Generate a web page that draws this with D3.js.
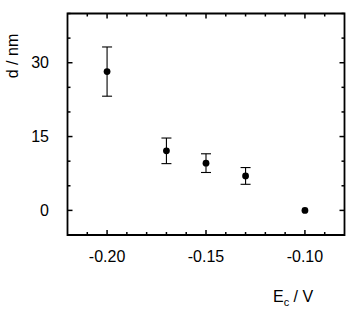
<!DOCTYPE html>
<html>
<head>
<meta charset="utf-8">
<script src="https://cdn.jsdelivr.net/npm/d3@7"></script>
<style>
  body { margin: 0; background: #fff; }
  svg text { font-family: Arial, "Liberation Sans", sans-serif; fill: #000; }
</style>
</head>
<body>
<div id="chart"></div>
<script>
(function() {
    'use strict';

    // Data
    var potentials = [-0.20, -0.17, -0.15, -0.13, -0.10];
    var thickness = [28.2, 12.1, 9.6, 7.0, 0];
    var thicknessErr = [5.0, 2.6, 1.9, 1.7, 0];
    var xTickValues = [-0.20, -0.15, -0.10];
    var xMinorValues = [-0.21, -0.19, -0.18, -0.17, -0.16, -0.14, -0.13, -0.12, -0.11, -0.09];
    var yTickValues = [0, 15, 30];
    var yMinorValues = [-5, 5, 10, 20, 25, 35, 40];

    var width = 350, height = 312;
    var margin = { left: 67.5, right: 5.5, top: 13.5, bottom: 77 };

    var svg = d3.select("#chart").append("svg")
        .attr("width", width)
        .attr("height", height);

    var xScale = d3.scaleLinear()
        .domain([-0.22, -0.08])
        .range([margin.left, width - margin.right]);

    var yScale = d3.scaleLinear()
        .domain([-5, 40])
        .range([height - margin.bottom, margin.top]);

    var x0 = xScale.range()[0], x1 = xScale.range()[1];
    var yB = yScale.range()[0], yT = yScale.range()[1];

    // Frame
    svg.append("path")
        .attr("d", "M" + x0 + "," + yT + "H" + x1 + "V" + yB + "H" + x0 + "Z")
        .attr("fill", "none")
        .attr("stroke", "#000")
        .attr("stroke-width", 1.8);

    // Inward ticks on all four sides
    var tickLayer = svg.append("g")
        .attr("stroke", "#000")
        .attr("stroke-width", 1.5);

    var hTicks = function(values, len) {
        tickLayer.selectAll(null)
            .data(values).enter().append("line")
            .attr("x1", function(d) { return xScale(d); })
            .attr("x2", function(d) { return xScale(d); })
            .attr("y1", yB)
            .attr("y2", yB - len);
        tickLayer.selectAll(null)
            .data(values).enter().append("line")
            .attr("x1", function(d) { return xScale(d); })
            .attr("x2", function(d) { return xScale(d); })
            .attr("y1", yT)
            .attr("y2", yT + len);
    };
    var vTicks = function(values, len) {
        tickLayer.selectAll(null)
            .data(values).enter().append("line")
            .attr("y1", function(d) { return yScale(d); })
            .attr("y2", function(d) { return yScale(d); })
            .attr("x1", x0)
            .attr("x2", x0 + len);
        tickLayer.selectAll(null)
            .data(values).enter().append("line")
            .attr("y1", function(d) { return yScale(d); })
            .attr("y2", function(d) { return yScale(d); })
            .attr("x1", x1)
            .attr("x2", x1 - len);
    };
    hTicks(xTickValues, 5);
    hTicks(xMinorValues, 3);
    vTicks(yTickValues, 5);
    vTicks(yMinorValues, 3);

    // Tick labels
    svg.append("g").selectAll("text")
        .data(xTickValues).enter().append("text")
        .attr("x", function(d) { return xScale(d); })
        .attr("y", 262)
        .attr("text-anchor", "middle")
        .style("font-size", "16px")
        .text(function(d) { return d.toFixed(2); });

    svg.append("g").selectAll("text")
        .data(yTickValues).enter().append("text")
        .attr("x", 49)
        .attr("y", function(d) { return yScale(d) + 5.5; })
        .attr("text-anchor", "end")
        .style("font-size", "16px")
        .text(function(d) { return d; });

    // Axis titles
    svg.append("text")
        .attr("transform", "translate(18,56) rotate(-90)")
        .attr("text-anchor", "middle")
        .style("font-size", "16px")
        .text("d / nm");

    var xt = svg.append("text")
        .attr("x", 273)
        .attr("y", 302)
        .style("font-size", "16px");
    xt.append("tspan").text("E");
    xt.append("tspan").attr("dy", 4).style("font-size", "11px").text("c");
    xt.append("tspan").attr("dy", -4).text(" / V");

    // Error bars
    var bars = svg.append("g").attr("stroke", "#000").attr("stroke-width", 1.1);
    potentials.forEach(function(p, i) {
        if (!thicknessErr[i]) return;
        var x = xScale(p);
        var top = yScale(thickness[i] + thicknessErr[i]);
        var bot = yScale(thickness[i] - thicknessErr[i]);
        bars.append("line").attr("x1", x).attr("x2", x).attr("y1", top).attr("y2", bot);
        bars.append("line").attr("x1", x - 5).attr("x2", x + 5).attr("y1", top).attr("y2", top);
        bars.append("line").attr("x1", x - 5).attr("x2", x + 5).attr("y1", bot).attr("y2", bot);
    });

    // Points
    svg.append("g").selectAll("circle")
        .data(potentials).enter().append("circle")
        .attr("cx", function(d) { return xScale(d); })
        .attr("cy", function(d, i) { return yScale(thickness[i]); })
        .attr("r", 3.4)
        .attr("fill", "#000");
})();
</script>
</body>
</html>
